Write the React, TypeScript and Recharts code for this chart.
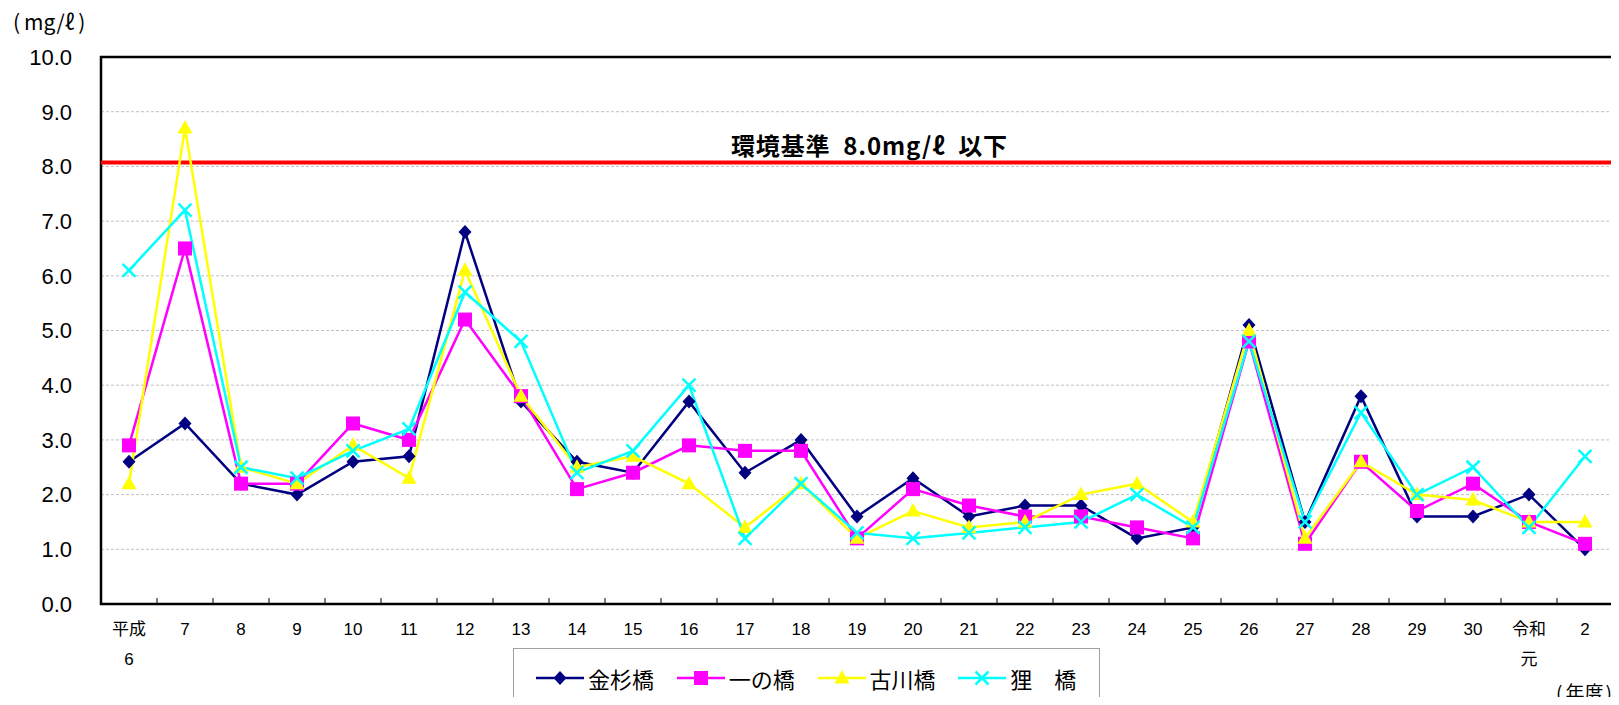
import {
  LineChart,
  Line,
  XAxis,
  YAxis,
  CartesianGrid,
  ReferenceLine,
  ReferenceArea,
  Legend,
} from "recharts";

const years = [
  "平成\n6", "7", "8", "9", "10", "11", "12", "13", "14", "15", "16", "17", "18",
  "19", "20", "21", "22", "23", "24", "25", "26", "27", "28", "29", "30", "令和\n元", "2",
];

const kanasugi = [2.6, 3.3, 2.2, 2.0, 2.6, 2.7, 6.8, 3.7, 2.6, 2.4, 3.7, 2.4, 3.0, 1.6, 2.3, 1.6, 1.8, 1.8, 1.2, 1.4, 5.1, 1.5, 3.8, 1.6, 1.6, 2.0, 1.0];
const ichinohashi = [2.9, 6.5, 2.2, 2.2, 3.3, 3.0, 5.2, 3.8, 2.1, 2.4, 2.9, 2.8, 2.8, 1.2, 2.1, 1.8, 1.6, 1.6, 1.4, 1.2, 4.8, 1.1, 2.6, 1.7, 2.2, 1.5, 1.1];
const furukawa = [2.2, 8.7, 2.5, 2.2, 2.9, 2.3, 6.1, 3.8, 2.5, 2.7, 2.2, 1.4, 2.2, 1.2, 1.7, 1.4, 1.5, 2.0, 2.2, 1.5, 5.0, 1.2, 2.6, 2.0, 1.9, 1.5, 1.5];
const tanuki = [6.1, 7.2, 2.5, 2.3, 2.8, 3.2, 5.7, 4.8, 2.4, 2.8, 4.0, 1.2, 2.2, 1.3, 1.2, 1.3, 1.4, 1.5, 2.0, 1.4, 4.8, 1.5, 3.5, 2.0, 2.5, 1.4, 2.7];

const yTicks = [0, 1, 2, 3, 4, 5, 6, 7, 8, 9, 10];
const standard = 8.07;

const data = years.map((year, i) => ({
  year,
  kanasugi: kanasugi[i],
  ichinohashi: ichinohashi[i],
  furukawa: furukawa[i],
  tanuki: tanuki[i],
}));

const FONT = '"Liberation Sans", "Noto Sans CJK JP", sans-serif';
const JP = '"Noto Sans CJK JP", sans-serif';

type Shape = "diamond" | "square" | "triangle" | "cross";

const series: { key: string; name: string; color: string; shape: Shape }[] = [
  { key: "kanasugi", name: "金杉橋", color: "#000080", shape: "diamond" },
  { key: "ichinohashi", name: "一の橋", color: "#ff00ff", shape: "square" },
  { key: "furukawa", name: "古川橋", color: "#ffff00", shape: "triangle" },
  { key: "tanuki", name: "狸　橋", color: "#00ffff", shape: "cross" },
];

function Marker({ cx, cy, color, shape }: { cx: number; cy: number; color: string; shape: Shape }) {
  if (cx == null || cy == null) return null;
  if (shape === "diamond")
    return <polygon points={`${cx},${cy - 7} ${cx + 6.5},${cy} ${cx},${cy + 7} ${cx - 6.5},${cy}`} fill={color} />;
  if (shape === "square") return <rect x={cx - 7} y={cy - 7} width={14} height={14} fill={color} />;
  if (shape === "triangle")
    return <polygon points={`${cx},${cy - 8} ${cx + 7.5},${cy + 5.5} ${cx - 7.5},${cy + 5.5}`} fill={color} />;
  return (
    <g stroke={color} strokeWidth={2.5}>
      <line x1={cx - 6.5} y1={cy - 6.5} x2={cx + 6.5} y2={cy + 6.5} />
      <line x1={cx - 6.5} y1={cy + 6.5} x2={cx + 6.5} y2={cy - 6.5} />
    </g>
  );
}

function YearTick(props: any) {
  const { x, y, payload, index, width, visibleTicksCount } = props;
  const half = payload?.offset || width / visibleTicksCount / 2;
  const lines = String(payload.value).split("\n");
  const last = index === visibleTicksCount - 1;
  return (
    <g>
      {!last && <line x1={x + half} x2={x + half} y1={y} y2={y - 6} stroke="#000" strokeWidth={1} />}
      {lines.map((t, i) => (
        <text key={i} x={x} y={y + 31 + i * 30} textAnchor="middle" fontSize={17} fontFamily={FONT} fill="#000">
          {t}
        </text>
      ))}
    </g>
  );
}

function ThresholdLabel(props: any) {
  const vb = props.viewBox || {};
  return (
    <text
      x={vb.x + vb.width / 2 + 12}
      y={vb.y - 8}
      textAnchor="middle"
      fontSize={24}
      fontWeight="bold"
      fontFamily={JP}
      fill="#000"
      textLength={276}
      lengthAdjust="spacing"
    >
      {"環境基準\u20028.0mg/ℓ\u2002以下"}
    </text>
  );
}

function LegendBox() {
  return (
    <div
      style={{
        width: 587,
        height: 70,
        border: "1px solid #a0a0a0",
        boxSizing: "border-box",
        paddingTop: 17,
        paddingLeft: 22,
        display: "flex",
        background: "#fff",
      }}
    >
      {series.map((s) => (
        <div key={s.key} style={{ width: 145, display: "flex", alignItems: "center", height: 24 }}>
          <svg width={48} height={24} style={{ flex: "none" }}>
            <line x1={0} y1={12} x2={48} y2={12} stroke={s.color} strokeWidth={2.5} />
            <Marker cx={24} cy={12} color={s.color} shape={s.shape} />
          </svg>
          <span style={{ fontFamily: JP, fontSize: 22, marginLeft: 4, whiteSpace: "pre", color: "#000" }}>{s.name}</span>
        </div>
      ))}
    </div>
  );
}

export default function App() {
  return (
    <div style={{ position: "relative", margin: -8, width: 1619, height: 705, overflow: "hidden", background: "#fff" }}>
      <LineChart width={1619} height={705} data={data} margin={{ top: 57, right: 6, bottom: 41, left: 0 }}>
        <CartesianGrid vertical={false} stroke="#c0c0c0" strokeDasharray="3 2" />
        <XAxis
          dataKey="year"
          scale="band"
          interval={0}
          height={60}
          tickSize={0}
          tickMargin={0}
          axisLine={false}
          tickLine={false}
          tick={<YearTick />}
        />
        <YAxis
          domain={[0, 10]}
          ticks={yTicks}
          width={101}
          tickSize={0}
          tickMargin={29}
          axisLine={false}
          tickLine={false}
          tickFormatter={(v: number) => v.toFixed(1)}
          tick={{ fontSize: 22, fontFamily: FONT, fill: "#000" }}
        />
        <ReferenceArea y1={0} y2={10} fill="none" stroke="#000" strokeWidth={2.5} />
        <ReferenceLine y={standard} stroke="#ff0000" strokeWidth={4} label={<ThresholdLabel />} />
        {series.map((s) => (
          <Line
            key={s.key}
            dataKey={s.key}
            name={s.name}
            stroke={s.color}
            strokeWidth={2.5}
            isAnimationActive={false}
            dot={(p: any) => <Marker key={`${s.key}-${p.index}`} cx={p.cx} cy={p.cy} color={s.color} shape={s.shape} />}
            activeDot={false}
          />
        ))}
        <Legend
          layout="horizontal"
          verticalAlign="middle"
          align="center"
          wrapperStyle={{ position: "absolute", left: 513, top: 648, width: 587, height: 70 }}
          content={() => <LegendBox />}
        />
      </LineChart>
      <svg width={1619} height={705} style={{ position: "absolute", left: 0, top: 0, pointerEvents: "none" }}>
        <text x={13} y={30} fontSize={21} fontFamily={JP} fill="#000">
          (<tspan dx={4}>mg/ℓ</tspan>
          <tspan dx={4}>)</tspan>
        </text>
        <text x={1556} y={700} fontSize={19} fontFamily={JP} fill="#000">
          (<tspan dx={3}>年度</tspan>
          <tspan dx={2}>)</tspan>
        </text>
      </svg>
    </div>
  );
}
